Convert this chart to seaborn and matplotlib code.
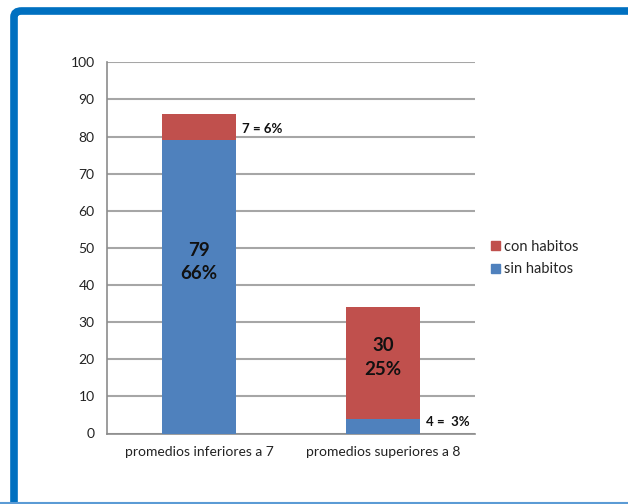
import pandas as pd
import matplotlib.pyplot as plt
import seaborn as sns
from matplotlib.patches import FancyBboxPatch, Patch
from matplotlib.lines import Line2D

# ------------------------------------
# DATA
# ------------------------------------

categories = ["promedios inferiores a 7", "promedios superiores a 8"]
sin_habitos = [79, 4]
con_habitos = [7, 30]
inner_labels = ["79\n66%", "30\n25%"]
side_labels = ["7 = 6%", "4 =  3%"]

df = pd.DataFrame({
    "categoria": categories,
    "sin": sin_habitos,
    "con": con_habitos,
})
df["total"] = df["sin"] + df["con"]

blue = "#4F81BD"
red = "#C0504D"
grid_gray = "#A6A6A6"

sns.set_style("white")
plt.rcParams["font.family"] = ["Lato", "DejaVu Sans"]

fig = plt.figure(figsize=(6.28, 5.04), dpi=100)
ax = fig.add_axes([107 / 628, 1 - 433.5 / 504, (475 - 107) / 628, (433.5 - 62.3) / 504])

# ------------------------------------
# STACKED BARS
# ------------------------------------

sns.barplot(data=df, x="categoria", y="total", color=red, width=0.4,
            saturation=1, linewidth=0, ax=ax, zorder=3)
sns.barplot(data=df, x="categoria", y="sin", color=blue, width=0.4,
            saturation=1, linewidth=0, ax=ax, zorder=4)

ax.set_ylim(0, 100)
ax.set_xlim(-0.5, 1.5)
ax.set_yticks(range(0, 101, 10))
ax.set_xlabel("")
ax.set_ylabel("")

ax.yaxis.grid(True, color=grid_gray, linewidth=1.5, zorder=0)
ax.set_axisbelow(True)

for side in ["top", "right"]:
    ax.spines[side].set_visible(False)
for side in ["left", "bottom"]:
    ax.spines[side].set_color("#8C8C8C")
    ax.spines[side].set_linewidth(1.2)

ax.tick_params(axis="y", length=5, width=1.2, color="#8C8C8C",
               labelsize=10, pad=4, labelcolor="#222222")
ax.tick_params(axis="x", length=0, labelsize=10, pad=9, labelcolor="#222222")
ax.set_xticks([-0.5, 0.5, 1.5], minor=True)
ax.tick_params(axis="x", which="minor", length=5, width=1.2, color="#8C8C8C")

# ------------------------------------
# LABELS
# ------------------------------------

inner_y = [46.2, 20.5]
for i, txt in enumerate(inner_labels):
    ax.text(i, inner_y[i], txt, ha="center", va="center", fontsize=13.5,
            fontweight="bold", linespacing=1.45, color="#111111", zorder=5)

side_y = [82, 3.2]
for i, txt in enumerate(side_labels):
    ax.text(i + 0.235, side_y[i], txt, ha="left", va="center", fontsize=9.5,
            fontweight="bold", color="#111111", zorder=5)

handles = [Patch(color=red, label="con habitos"),
           Patch(color=blue, label="sin habitos")]
fig.legend(handles=handles, loc="center left",
           bbox_to_anchor=(478 / 628, 1 - 258 / 504), frameon=False,
           fontsize=10.5, handlelength=0.6, handleheight=0.6,
           handletextpad=0.3, labelspacing=0.6)

# ------------------------------------
# FRAME
# ------------------------------------

frame = FancyBboxPatch((14 / 628, -0.1), 1.2, 1 - 11 / 504 + 0.1,
                       boxstyle="round,pad=0,rounding_size=0.012",
                       transform=fig.transFigure, fill=False,
                       edgecolor="#0070C0", linewidth=5.5)
fig.add_artist(frame)
fig.add_artist(Line2D([0, 1], [1.5 / 504, 1.5 / 504], transform=fig.transFigure,
                      color="#5B9BD5", linewidth=1.5))

plt.savefig("out.png", dpi=100)
plt.close()
